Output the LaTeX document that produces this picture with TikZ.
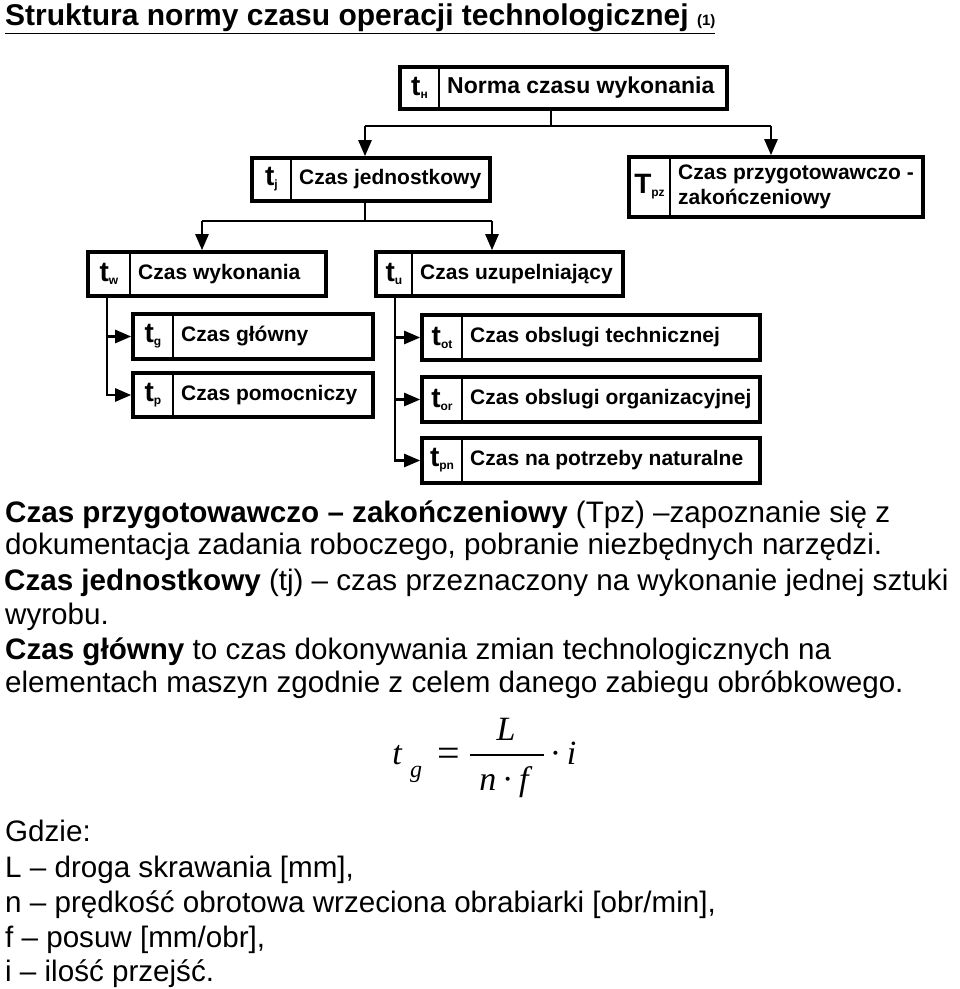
\documentclass[tikz,border=0pt]{standalone}
\usepackage{fontspec}
\setmainfont{Liberation Sans}
\newfontfamily\frmfont{Liberation Serif}
\usetikzlibrary{arrows.meta,fit}

\newcommand{\symb}[3][t]{{\fontsize{28}{30}\selectfont\bfseries #1}\raisebox{-3pt}{\fontsize{12}{13}\selectfont\bfseries #2}#3}
\newcommand{\normbox}[9]{%
  \node[boxst, fit={(#2,#3) (#4,#5)}] (#1) {};
  \draw[divst] (#6,#3) -- (#6,#5);
  \node[symst] (#1s) at ({(#2+#6)/2},{(#3+#5)/2}) {#7};
  \node[labst, #9] (#1l) at (#6+8,{(#3+#5)/2}) {#8};
}

\begin{document}
\begin{tikzpicture}[x=1pt,y=-1pt,
  boxst/.style={draw=black, line width=3.6pt, inner sep=0pt, fill=white},
  divst/.style={line width=2pt},
  symst/.style={inner sep=0pt},
  labst/.style={anchor=west, inner sep=0pt, align=left, font=\bfseries\fontsize{21}{25}\selectfont},
  bigl/.style={font=\bfseries\fontsize{23}{27}\selectfont},
  conn/.style={line width=2.5pt},
  arr/.style={conn, -{Triangle[length=16pt,width=13pt]}},
  txt/.style={anchor=base west, inner sep=0pt, font=\fontsize{29.6}{34}\selectfont},
  frm/.style={anchor=base, inner sep=0pt, font=\frmfont\itshape\fontsize{34}{38}\selectfont},
  fracline/.style={line width=2.2pt}
]
\useasboundingbox (0,0) rectangle (960,989);

% title
\node[anchor=base west, inner sep=0pt] (title) at (5,25)
  {\bfseries\underline{\fontsize{30}{34}\selectfont Struktura normy czasu operacji technologicznej\ {\fontsize{15}{17}\selectfont (1)}}};

% boxes
\normbox{tn}{400}{67}{727}{109}{439}{\symb{н}{}}{Norma czasu wykonania}{bigl}
\normbox{tj}{252}{158}{490}{201}{291}{\symb{j}{}}{Czas jednostkowy}{}
\normbox{tpz}{629}{157}{923}{217}{670}{\symb[T]{pz}{}}{Czas przygotowawczo -\\zakończeniowy}{}
\normbox{tw}{88}{252}{326}{296}{130}{\symb{w}{}}{Czas wykonania}{}
\normbox{tu}{376}{252}{623}{296}{412}{\symb{u}{}}{Czas uzupelniający}{}
\normbox{tg}{133}{314}{373}{359}{173}{\symb{g}{}}{Czas główny}{}
\normbox{tp}{133}{373}{373}{417}{173}{\symb{p}{}}{Czas pomocniczy}{}
\normbox{tot}{422}{315}{760}{360}{462}{\symb{ot}{}}{Czas obslugi technicznej}{}
\normbox{tor}{422}{377}{760}{422}{462}{\symb{or}{}}{Czas obslugi organizacyjnej}{}
\normbox{tpn}{422}{438}{760}{483}{462}{\symb{pn}{}}{Czas na potrzeby naturalne}{}

% connectors
\coordinate (b1) at (551,126);
\coordinate (hL) at (365,126);
\coordinate (hR) at (771,126);
\draw[conn] (b1 |- tn.south) -- (b1);
\draw[conn] (hL) -- (hR);
\draw[arr] (hL) -- (hL |- tj.north);
\draw[arr] (hR) -- (hR |- tpz.north);

\coordinate (b2) at (365,221);
\coordinate (h2L) at (202,221);
\coordinate (h2R) at (492,221);
\draw[conn] (b2 |- tj.south) -- (b2);
\draw[conn] (h2L) -- (h2R);
\draw[arr] (h2L) -- (h2L |- tw.north);
\draw[arr] (h2R) -- (h2R |- tu.north);

\coordinate (v1) at (107,0);
\draw[arr] (v1 |- tw.south) |- (tp.west);
\draw[arr] (v1 |- tg.west) -- (tg.west);

\coordinate (v2) at (395,0);
\draw[arr] (v2 |- tu.south) |- (tpn.west);
\draw[arr] (v2 |- tot.west) -- (tot.west);
\draw[arr] (v2 |- tor.west) -- (tor.west);

% text
\node[txt] (p1) at (5,522) {\textbf{Czas przygotowawczo – zakończeniowy} (Tpz) –zapoznanie się z};
\node[txt] (p2) at (5,554) {dokumentacja zadania roboczego, pobranie niezbędnych narzędzi.};
\node[txt] (p3) at (4,590) {\textbf{Czas jednostkowy} (tj) – czas przeznaczony na wykonanie jednej sztuki};
\node[txt] (p4) at (5,624) {wyrobu.};
\node[txt] (p5) at (5,659) {\textbf{Czas główny} to czas dokonywania zmian technologicznych na};
\node[txt] (p6) at (5,692) {elementach maszyn zgodnie z celem danego zabiegu obróbkowego.};

% formula
\node[frm] (ft) at (397,764) {t};
\node[frm, font=\frmfont\itshape\fontsize{24}{26}\selectfont] (fg) at (416,777) {g};
\node[frm, font=\frmfont\fontsize{40}{42}\selectfont] (feq) at (449,766) {=};
\draw[fracline] (470,755) -- (544,755);
\node[frm] (fL) at (506,740) {L};
\node[frm] (fnf) at (504,790) {n\,{\upshape·}\,f};
\node[frm] (fi) at (563,764) {{\upshape·}\,i};

% legend
\node[txt] (g0) at (5,841) {Gdzie:};
\node[txt] (g1) at (5,877) {L – droga skrawania [mm],};
\node[txt] (g2) at (5,912) {n – prędkość obrotowa wrzeciona obrabiarki [obr/min],};
\node[txt] (g3) at (5,947) {f – posuw [mm/obr],};
\node[txt] (g4) at (5,981) {i – ilość przejść.};
\end{tikzpicture}
\end{document}
